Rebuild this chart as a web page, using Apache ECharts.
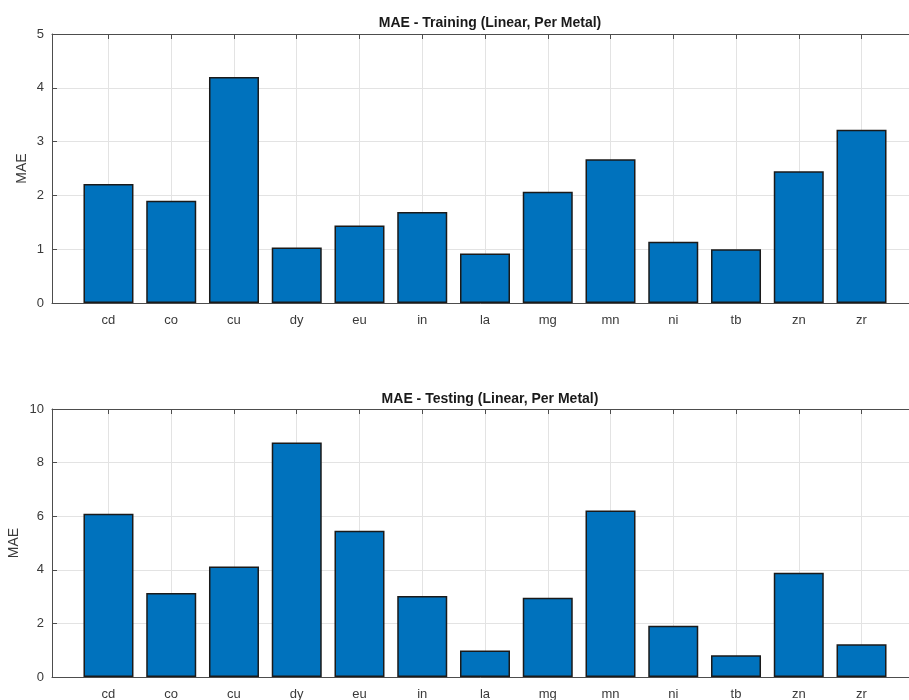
<!DOCTYPE html>
<html>
<head>
<meta charset="utf-8">
<style>
  html, body { margin: 0; padding: 0; background: #fff; }
  #chart { width: 909px; height: 700px; }
</style>
<script src="https://cdn.jsdelivr.net/npm/echarts@6/dist/echarts.min.js"></script>
</head>
<body>
<div id="chart"></div>
<script>
// metals along the x axis
const metals = ["cd", "co", "cu", "dy", "eu", "in", "la", "mg", "mn", "ni", "tb", "zn", "zr"];
// MAE per metal
const trainMae = [2.21, 1.90, 4.20, 1.03, 1.44, 1.69, 0.92, 2.07, 2.67, 1.14, 1.00, 2.45, 3.22];
const testMae = [6.09, 3.13, 4.12, 8.75, 5.46, 3.02, 0.99, 2.96, 6.21, 1.91, 0.81, 3.89, 1.22];
const trainTicks = [0, 1, 2, 3, 4, 5];
const testTicks = [0, 2, 4, 6, 8, 10];

const positions = metals.map((m, i) => i + 1);
const axisColor = "#4d4d4d";
const textColor = "#3a3a3a";
const fontFamily = "Liberation Sans, Arial, sans-serif";

const chart = echarts.init(document.getElementById("chart"));

function xAxes(gridIndex) {
  const base = {
    type: "value",
    gridIndex: gridIndex,
    min: 0.1,
    max: 13.9,
    axisLine: { show: true, onZero: false, lineStyle: { color: axisColor, width: 1 } },
    axisTick: { show: true, inside: true, length: 5, customValues: positions, lineStyle: { color: axisColor } },
    splitLine: { show: true, lineStyle: { color: "#e3e3e3", width: 1 } },
  };
  return [
    Object.assign({}, base, {
      position: "bottom",
      axisLabel: {
        customValues: positions,
        formatter: (v) => metals[Math.round(v) - 1] || "",
        color: textColor,
        fontSize: 13,
        fontFamily: fontFamily,
        margin: 11,
      },
    }),
    Object.assign({}, base, {
      position: "top",
      axisLabel: { show: false },
      splitLine: { show: false },
    }),
  ];
}

function yAxis(gridIndex, ticks, gap) {
  return {
    type: "value",
    gridIndex: gridIndex,
    min: ticks[0],
    max: ticks[ticks.length - 1],
    interval: ticks[1] - ticks[0],
    name: "MAE",
    nameLocation: "middle",
    nameGap: gap,
    nameMoveOverlap: false,
    nameTextStyle: { color: textColor, fontSize: 14, fontFamily: fontFamily },
    axisLine: { show: true, lineStyle: { color: axisColor, width: 1 } },
    axisTick: { show: true, inside: true, length: 5, lineStyle: { color: axisColor } },
    axisLabel: { color: textColor, fontSize: 13, fontFamily: fontFamily, margin: 8 },
    splitLine: { show: true, lineStyle: { color: "#e3e3e3", width: 1 } },
  };
}

function barSeries(idx, values) {
  return {
    type: "bar",
    xAxisIndex: idx * 2,
    yAxisIndex: idx,
    barWidth: 50,
    data: values.map((v, i) => [positions[i], v]),
    itemStyle: { color: "#0072bd", borderColor: "#1a1a1a", borderWidth: 1.5 },
  };
}

const option = {
  animation: false,
  backgroundColor: "#ffffff",
  title: [
    {
      text: "MAE - Training (Linear, Per Metal)",
      left: 485,
      top: 11,
      textAlign: "center",
      textStyle: { fontSize: 14, fontWeight: "bold", color: "#1a1a1a", fontFamily: fontFamily },
    },
    {
      text: "MAE - Testing (Linear, Per Metal)",
      left: 485,
      top: 387,
      textAlign: "center",
      textStyle: { fontSize: 14, fontWeight: "bold", color: "#1a1a1a", fontFamily: fontFamily },
    },
  ],
  grid: [
    { left: 52, top: 34, width: 866, height: 269, outerBoundsMode: "none", containLabel: false },
    { left: 52, top: 409, width: 866, height: 268, outerBoundsMode: "none", containLabel: false },
  ],
  xAxis: xAxes(0).concat(xAxes(1)),
  yAxis: [yAxis(0, trainTicks, 23), yAxis(1, testTicks, 31)],
  series: [barSeries(0, trainMae), barSeries(1, testMae)],
};

chart.setOption(option);
</script>
</body>
</html>
